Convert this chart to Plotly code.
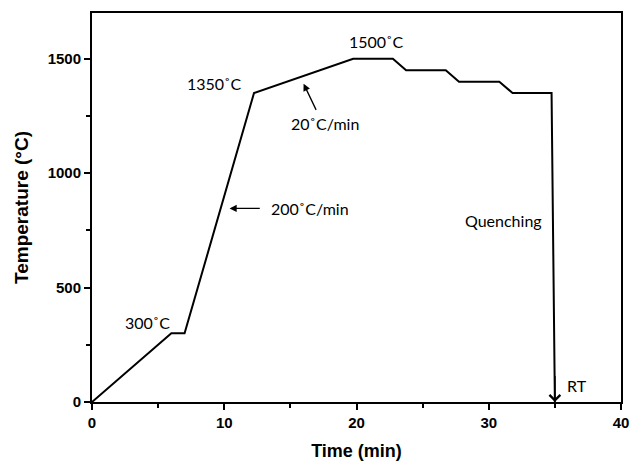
import plotly.graph_objects as go

# Heat-treatment profile (time in min, temperature in °C)
time_min = [0, 6.0, 7.0, 12.25, 19.75, 22.75, 23.75, 26.75, 27.75, 30.8, 31.8, 34.75]
temp_c = [0, 300, 300, 1350, 1500, 1500, 1450, 1450, 1400, 1400, 1350, 1350]

quench_end = (35.0, 0)

x_ticks = [0, 10, 20, 30, 40]
y_ticks = [0, 500, 1000, 1500]

labels = [
    ("300˚C", 4.2, 349),
    ("1350˚C", 9.3, 1391),
    ("1500˚C", 21.5, 1574),
    ("Quenching", 31.1, 794),
    ("RT", 36.7, 70),
]
# (text, text_x, text_y, tip_x, tip_y, tail_x, tail_y)
rate_labels = [
    ("20˚C/min", 17.6, 1217, 16.0, 1391, 17.0, 1270),
    ("200˚C/min", 16.5, 846, 10.4, 846, 12.8, 846),
]

fig = go.Figure()
fig.add_trace(go.Scatter(
    x=time_min + [quench_end[0]], y=temp_c + [quench_end[1]],
    mode="lines", line=dict(color="black", width=2), hoverinfo="skip",
))

ann_font = dict(family="Lato, Carlito, sans-serif", size=16, color="black")
for t, x, y in labels:
    fig.add_annotation(x=x, y=y, text=t, showarrow=False, font=ann_font)

for t, tx, ty, hx, hy, ax, ay in rate_labels:
    fig.add_annotation(x=tx, y=ty, text=t, showarrow=False, font=ann_font)
    fig.add_annotation(x=hx, y=hy, ax=ax, ay=ay, axref="x", ayref="y",
                       text="", showarrow=True, arrowhead=2, arrowsize=1.1,
                       arrowwidth=1.3, arrowcolor="black")

# Quench arrow head
fig.add_annotation(x=quench_end[0], y=quench_end[1], ax=quench_end[0], ay=120,
                   axref="x", ayref="y", text="", showarrow=True, arrowhead=4,
                   arrowsize=1.4, arrowwidth=1.5, arrowcolor="black")

bold_font = dict(family="Arial, Liberation Sans, sans-serif", color="black", weight="bold")

axis_common = dict(
    showgrid=False, zeroline=False, showline=True, linecolor="black", linewidth=2,
    mirror=True, ticks="outside", tickwidth=2, ticklen=6, tickcolor="black",
    tickfont=dict(size=15, **bold_font), automargin=False,
    minor=dict(ticks="outside", ticklen=4, tickwidth=2, tickcolor="black"),
)

fig.update_xaxes(
    range=[0, 40], tickvals=x_ticks, ticktext=[str(v) for v in x_ticks],
    title=dict(text="Time (min)", font=dict(size=18, **bold_font), standoff=14),
    **axis_common,
)
fig.update_xaxes(minor=dict(tickvals=[5, 15, 25, 35]))
fig.update_yaxes(
    range=[0, 1700], tickvals=y_ticks, ticktext=[str(v) for v in y_ticks],
    title=dict(text="Temperature (°C)", font=dict(size=19, **bold_font), standoff=14),
    **axis_common,
)
fig.update_yaxes(minor=dict(tickvals=[250, 750, 1250]))

fig.update_layout(
    width=637, height=466, showlegend=False,
    margin=dict(l=92, r=16, t=13, b=64),
    plot_bgcolor="white", paper_bgcolor="white",
)

fig.write_html("out.html", config={"displayModeBar": False},
               post_script="document.body.style.margin='0';")
